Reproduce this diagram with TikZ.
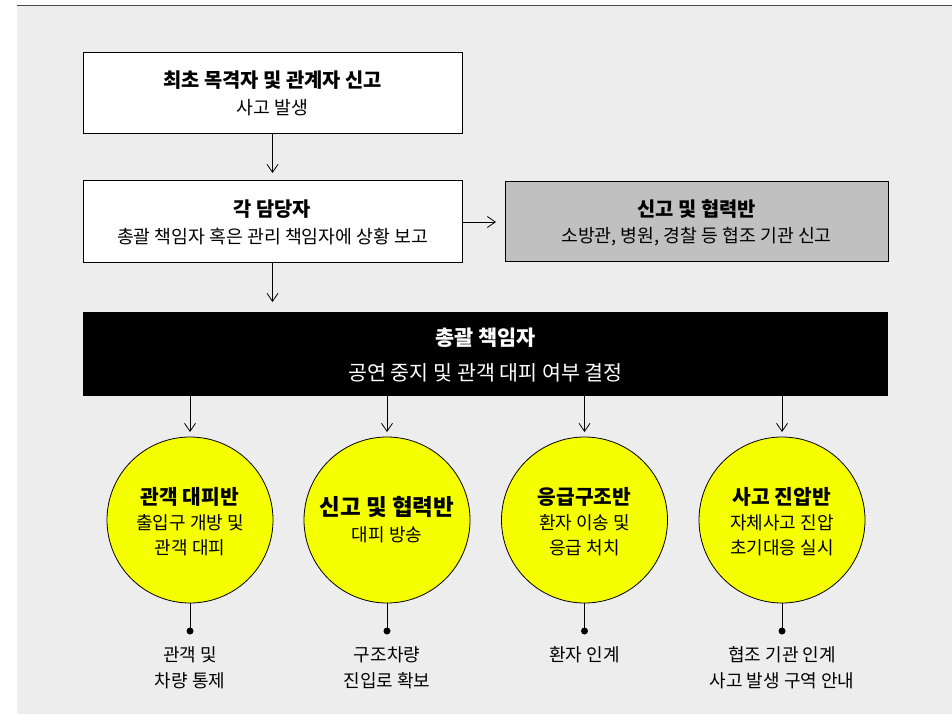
\documentclass[tikz,border=0pt]{standalone}
\usepackage{fontspec}
\setmainfont{Noto Sans CJK KR}
\usetikzlibrary{arrows.meta}
\definecolor{bgray}{HTML}{EDEDED}
\definecolor{topline}{HTML}{4A4A4A}
\definecolor{boxgray}{HTML}{C0C0C0}
\definecolor{cyellow}{HTML}{F5FF00}
\newcommand{\fs}[1]{\fontsize{#1}{#1}\selectfont}
\tikzset{
  box/.style={draw=black, line width=0.9pt, inner sep=0pt},
  txt/.style={inner sep=0pt, anchor=center},
  ttl/.style={txt, font=\fs{19.8}\bfseries},
  sub/.style={txt, font=\fs{18.3}},
  ctitle/.style={txt, font=\fs{20.3}\bfseries},
  csub/.style={txt, font=\fs{18}},
  blab/.style={txt, font=\fs{18}},
  circ/.style={circle, draw=black, line width=0.8pt, fill=cyellow, minimum size=166pt, inner sep=0pt},
  arr/.style={line width=0.8pt, -{Straight Barb[length=8pt,width=11pt,line width=0.8pt]}},
  stem/.style={line width=0.9pt},
  dot/.style={circle, fill=black, minimum size=7pt, inner sep=0pt}
}
\begin{document}
\begin{tikzpicture}[x=1pt,y=-1pt]
\useasboundingbox (0,0) rectangle (952,714);
\fill[bgray] (17,5) rectangle (952,714);
\draw[topline, line width=1.6pt] (17,5.5) -- (952,5.5);

% top boxes
\node[box, fill=white, minimum width=379pt, minimum height=81pt] (b1) at (272.5,92.5) {};
\node[ttl] (b1t) at (272.5,80) {최초 목격자 및 관계자 신고};
\node[sub] (b1s) at (272.5,108) {사고 발생};

\node[box, fill=white, minimum width=379pt, minimum height=82pt] (b2) at (272.5,221) {};
\node[ttl] (b2t) at (272.5,209) {각 담당자};
\node[sub] (b2s) at (272.5,237) {총괄 책임자 혹은 관리 책임자에 상황 보고};

\node[box, fill=boxgray, minimum width=383pt, minimum height=80pt] (g) at (696.5,221) {};
\node[ttl] (gt) at (696.5,209) {신고 및 협력반};
\node[sub] (gs) at (696.5,237) {소방관, 병원, 경찰 등 협조 기관 신고};

% black box
\node[fill=black, inner sep=0pt, minimum width=805pt, minimum height=84pt] (k) at (485.5,353.5) {};
\node[txt, font=\fs{20.8}\bfseries, text=white] (kt) at (485.5,338) {총괄 책임자};
\node[txt, font=\fs{20.6}, text=white] (ks) at (485.5,373) {공연 중지 및 관객 대피 여부 결정};

% arrows top
\coordinate (a1) at (272.5,173);
\coordinate (a2) at (496,222);
\coordinate (a3) at (272.5,302);
\draw[arr] (b1.south) -- (a1);
\draw[arr] (b2.east |- a2) -- (a2);
\draw[arr] (b2.south) -- (a3);

% circles
\foreach \i/\x in {1/190,2/387,3/584.5,4/782}{
  \node[circ] (c\i) at (\x,520) {};
  \coordinate (t\i) at (\x,432);
  \draw[arr] (k.south -| c\i) -- (t\i);
  \node[dot] (d\i) at (\x,631) {};
  \draw[stem] (c\i.south) -- (d\i.center);
}

\node[ctitle] (c1t) at (190,497) {관객 대피반};
\node[csub] (c1a) at (190,523) {출입구 개방 및};
\node[csub] (c1b) at (190,548) {관객 대피};

\node[txt, font=\fs{22.5}\bfseries] (c2t) at (387,507) {신고 및 협력반};
\node[csub] (c2a) at (387,535) {대피 방송};

\node[ctitle] (c3t) at (584.5,497) {응급구조반};
\node[csub] (c3a) at (584.5,523) {환자 이송 및};
\node[csub] (c3b) at (584.5,548) {응급 처치};

\node[ctitle] (c4t) at (782,497) {사고 진압반};
\node[csub] (c4a) at (782,523) {자체사고 진압};
\node[csub] (c4b) at (782,548) {초기대응 실시};

% bottom labels
\node[blab] (l1a) at (190,655) {관객 및};
\node[blab] (l1b) at (190,681) {차량 통제};
\node[blab] (l2a) at (387,655) {구조차량};
\node[blab] (l2b) at (387,681) {진입로 확보};
\node[blab] (l3a) at (584.5,655) {환자 인계};
\node[blab] (l4a) at (782,655) {협조 기관 인계};
\node[blab] (l4b) at (782,681) {사고 발생 구역 안내};
\end{tikzpicture}
\end{document}
